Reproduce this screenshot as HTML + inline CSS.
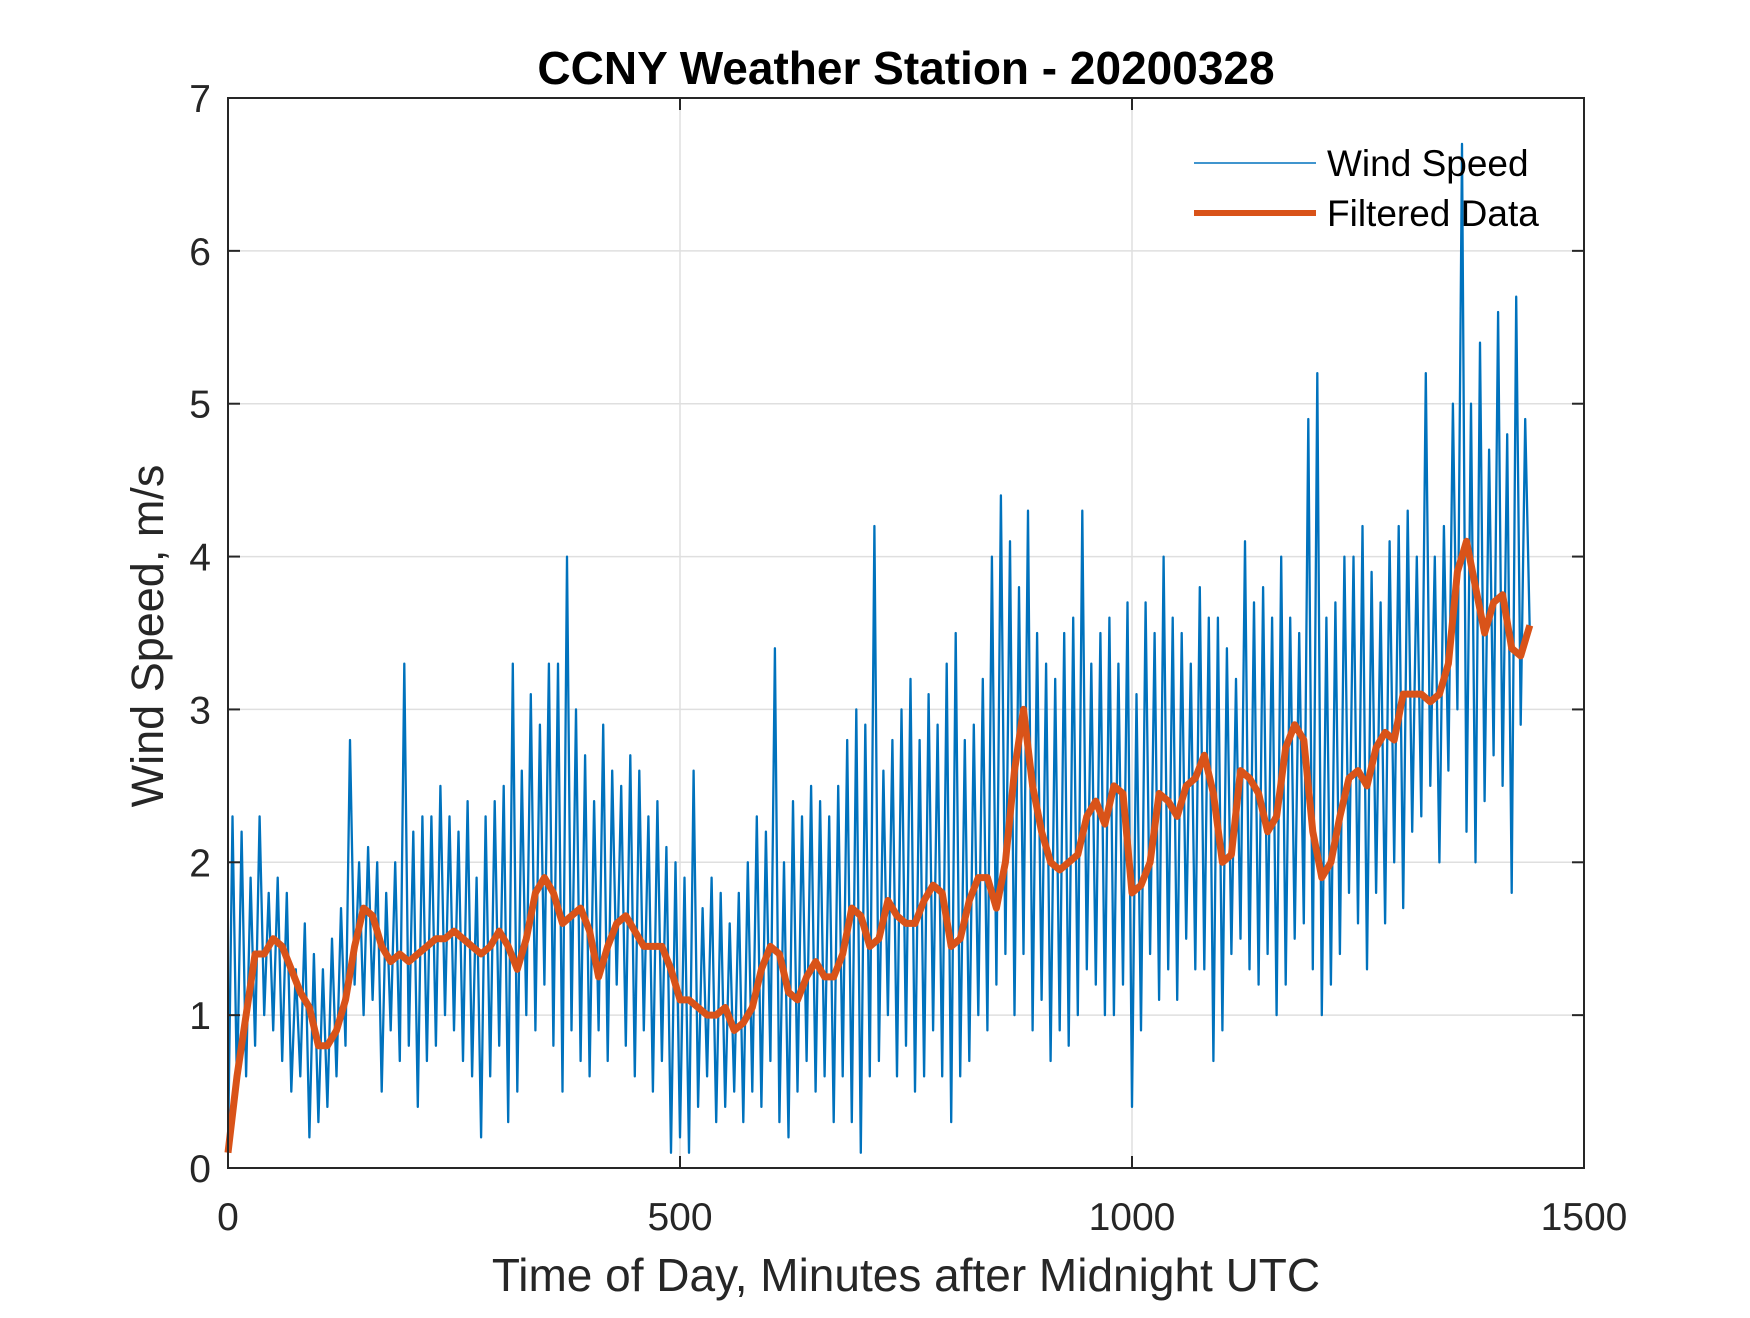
<!DOCTYPE html>
<html><head><meta charset="utf-8"><style>
html,body{margin:0;padding:0;background:#fff;}
svg text{font-family:"Liberation Sans",Arial,sans-serif;}
</style></head><body>
<svg id="chart" width="1750" height="1313" viewBox="0 0 1750 1313" xmlns="http://www.w3.org/2000/svg">
<rect width="1750" height="1313" fill="#fff"/>
<g id="grid"></g>
<g id="series"></g>
<g id="axes"></g>
<text x="906" y="84" text-anchor="middle" font-size="46" font-weight="bold" fill="#000">CCNY Weather Station - 20200328</text>
<text x="906" y="1291" text-anchor="middle" font-size="46" fill="#262626">Time of Day, Minutes after Midnight UTC</text>
<text transform="translate(163,636) rotate(-90)" text-anchor="middle" font-size="45" fill="#262626">Wind Speed, m/s</text>
<g>
<line x1="1194" y1="163" x2="1316" y2="163" stroke="#0072BD" stroke-width="1.6"/>
<text x="1327" y="176" font-size="37" fill="#000">Wind Speed</text>
<line x1="1194" y1="213" x2="1316" y2="213" stroke="#D95319" stroke-width="6"/>
<text x="1327" y="226" font-size="37" fill="#000">Filtered Data</text>
</g>
</svg>
<script>
const xTicks = [0, 500, 1000, 1500];
const yTicks = [0, 1, 2, 3, 4, 5, 6, 7];
const windStep = 5;
const windSpeed = [
0.1,2.3,0.5,2.2,0.6,1.9,0.8,2.3,1.0,1.8,
0.9,1.9,0.7,1.8,0.5,1.3,0.6,1.6,0.2,1.4,
0.3,1.3,0.4,1.5,0.6,1.7,0.8,2.8,1.2,2.0,
1.0,2.1,1.1,2.0,0.5,1.8,0.9,2.0,0.7,3.3,
0.8,2.2,0.4,2.3,0.7,2.3,0.8,2.5,1.0,2.3,
0.9,2.2,0.7,2.4,0.6,1.9,0.2,2.3,0.6,2.4,
0.8,2.5,0.3,3.3,0.5,2.6,1.0,3.1,0.9,2.9,
1.2,3.3,0.8,3.3,0.5,4.0,0.9,3.0,0.7,2.7,
0.6,2.4,0.9,2.9,0.7,2.6,1.2,2.5,0.8,2.7,
0.6,2.6,0.9,2.3,0.5,2.4,0.7,2.1,0.1,2.0,
0.2,1.9,0.1,2.6,0.4,1.7,0.6,1.9,0.3,1.8,
0.4,1.6,0.5,1.8,0.3,2.0,0.5,2.3,0.4,2.2,
0.7,3.4,0.3,2.0,0.2,2.4,0.5,2.3,0.7,2.5,
0.5,2.4,0.6,2.3,0.3,2.5,0.6,2.8,0.3,3.0,
0.1,2.9,0.6,4.2,0.7,2.6,1.0,2.8,0.6,3.0,
0.8,3.2,0.5,2.8,0.6,3.1,0.9,2.9,0.6,3.3,
0.3,3.5,0.6,2.8,0.7,2.9,1.0,3.2,0.9,4.0,
1.2,4.4,1.4,4.1,1.0,3.8,1.4,4.3,0.9,3.5,
1.1,3.3,0.7,3.2,0.9,3.5,0.8,3.6,1.0,4.3,
1.3,3.3,1.2,3.5,1.0,3.6,1.0,3.3,1.2,3.7,
0.4,3.1,0.9,3.7,1.4,3.5,1.1,4.0,1.3,3.6,
1.1,3.5,1.5,3.3,1.3,3.8,1.3,3.6,0.7,3.6,
0.9,3.4,1.4,3.2,1.5,4.1,1.3,3.7,1.2,3.8,
1.4,3.6,1.0,4.0,1.2,3.6,1.5,3.5,1.6,4.9,
1.3,5.2,1.0,3.6,1.2,3.7,1.4,4.0,1.8,4.0,
1.6,4.2,1.3,3.9,1.8,3.7,1.6,4.1,2.0,4.2,
1.7,4.3,2.2,4.0,2.3,5.2,2.5,4.0,2.0,4.2,
2.6,5.0,3.0,6.7,2.2,5.0,2.0,5.4,2.4,4.7,
2.7,5.6,2.5,4.8,1.8,5.7,2.9,4.9,3.5
];
const filteredStep = 10;
const filtered = [
0.1,0.6,1.0,1.4,1.4,1.5,1.45,1.3,1.15,1.05,
0.8,0.8,0.9,1.1,1.45,1.7,1.65,1.45,1.35,1.4,
1.35,1.4,1.45,1.5,1.5,1.55,1.5,1.45,1.4,1.45,
1.55,1.45,1.3,1.5,1.8,1.9,1.8,1.6,1.65,1.7,
1.55,1.25,1.45,1.6,1.65,1.55,1.45,1.45,1.45,1.3,
1.1,1.1,1.05,1.0,1.0,1.05,0.9,0.95,1.05,1.3,
1.45,1.4,1.15,1.1,1.25,1.35,1.25,1.25,1.4,1.7,
1.65,1.45,1.5,1.75,1.65,1.6,1.6,1.75,1.85,1.8,
1.45,1.5,1.75,1.9,1.9,1.7,2.0,2.6,3.0,2.5,
2.2,2.0,1.95,2.0,2.05,2.3,2.4,2.25,2.5,2.45,
1.8,1.85,2.0,2.45,2.4,2.3,2.5,2.55,2.7,2.45,
2.0,2.05,2.6,2.55,2.45,2.2,2.3,2.75,2.9,2.8,
2.2,1.9,2.0,2.3,2.55,2.6,2.5,2.75,2.85,2.8,
3.1,3.1,3.1,3.05,3.1,3.3,3.9,4.1,3.8,3.5,
3.7,3.75,3.4,3.35,3.55
];

const NS = "http://www.w3.org/2000/svg";
const L = 228, R = 1584, T = 98, B = 1168;
const X = v => L + (v - 0) / 1500 * (R - L);
const Y = v => B - (v - 0) / 7 * (B - T);
const grid = document.getElementById('grid');
const axes = document.getElementById('axes');
const series = document.getElementById('series');
function mk(tag, attrs, parent) {
  const e = document.createElementNS(NS, tag);
  for (const k in attrs) e.setAttribute(k, attrs[k]);
  parent.appendChild(e);
  return e;
}
xTicks.forEach(t => {
  const g = mk('line', {x1: X(t), x2: X(t), y1: T, y2: B, stroke: '#dfdfdf', 'stroke-width': 1.5}, grid);
  
  
  const a = mk('line', {x1: X(t), x2: X(t), y1: B, y2: B - 12, stroke: '#262626', 'stroke-width': 2}, axes);
  
  
  const b = mk('line', {x1: X(t), x2: X(t), y1: T, y2: T + 12, stroke: '#262626', 'stroke-width': 2}, axes);
  
  
  const tx = mk('text', {x: X(t), y: 1230, 'text-anchor': 'middle', 'font-size': 39, fill: '#262626'}, axes);
  tx.textContent = t;
  
  
});
yTicks.forEach(t => {
  const g = mk('line', {x1: L, x2: R, y1: Y(t), y2: Y(t), stroke: '#dfdfdf', 'stroke-width': 1.5}, grid);
  
  
  const a = mk('line', {x1: L, x2: L + 12, y1: Y(t), y2: Y(t), stroke: '#262626', 'stroke-width': 2}, axes);
  
  
  const b = mk('line', {x1: R, x2: R - 12, y1: Y(t), y2: Y(t), stroke: '#262626', 'stroke-width': 2}, axes);
  
  
  const tx = mk('text', {x: 211, y: Y(t) + 14, 'text-anchor': 'end', 'font-size': 39, fill: '#262626'}, axes);
  tx.textContent = t;
  
  
});
const frame = mk('rect', {x: L, y: T, width: R - L, height: B - T, fill: 'none', stroke: '#262626', 'stroke-width': 2}, axes);



const wp = windSpeed.map((v, i) => X(i * windStep).toFixed(1) + ',' + Y(v).toFixed(1)).join(' ');
const w = mk('polyline', {points: wp, fill: 'none', stroke: '#0072BD', 'stroke-width': 2.3, 'stroke-linejoin': 'round'}, series);


const fp = filtered.map((v, i) => X(i * filteredStep).toFixed(1) + ',' + Y(v).toFixed(1)).join(' ');
const f = mk('polyline', {points: fp, fill: 'none', stroke: '#D95319', 'stroke-width': 7, 'stroke-linejoin': 'round'}, series);


</script>
</body></html>
